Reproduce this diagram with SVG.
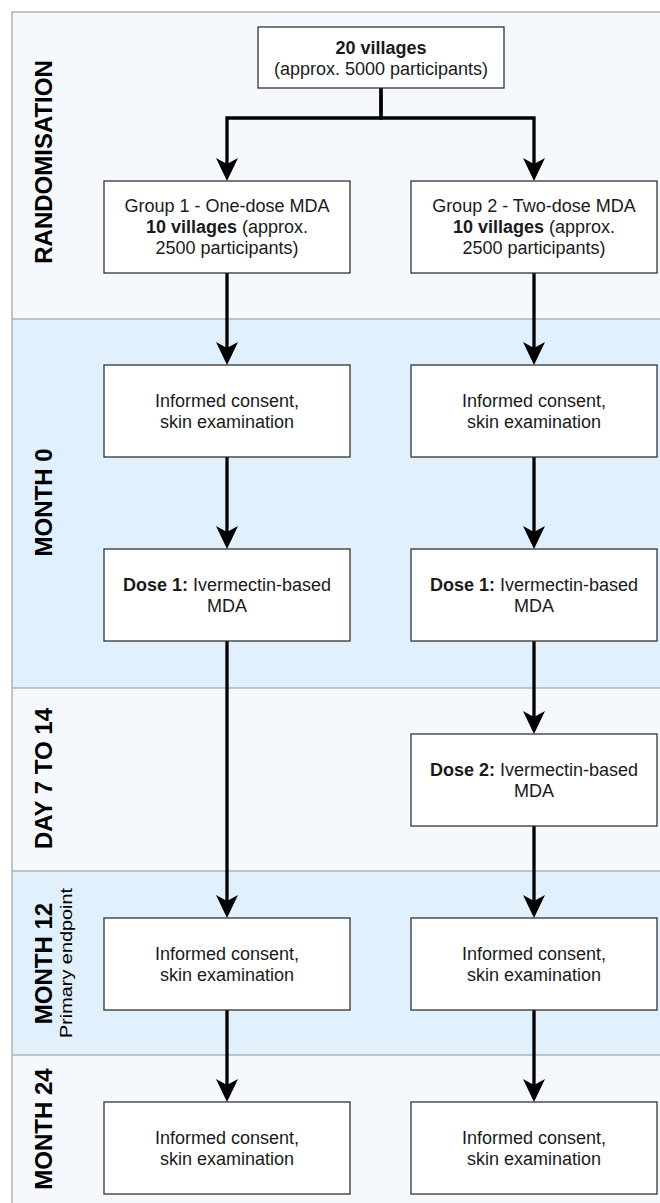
<svg xmlns="http://www.w3.org/2000/svg" width="660" height="1203" viewBox="0 0 660 1203">
<style>
.lane-light{fill:#f5f9fe;}
.lane-blue{fill:#e0f0fd;}
.sep{stroke:#b3b3b3;stroke-width:1.5;fill:none;}
.box{fill:#ffffff;stroke:#333333;stroke-width:1.3;}
.t{font-family:"Liberation Sans",Arial,Helvetica,sans-serif;font-size:18px;fill:#1a1a1a;text-anchor:middle;}
.b{font-weight:bold;}
.lane-label{font-family:"Liberation Sans",Arial,Helvetica,sans-serif;font-size:24px;font-weight:bold;fill:#000000;text-anchor:middle;}
.sub-label{font-family:"Liberation Sans",Arial,Helvetica,sans-serif;font-size:17px;fill:#000000;text-anchor:middle;}
.edge{stroke:#000000;stroke-width:3.3;fill:none;marker-end:url(#arrow);}
</style>
<defs>
<marker id="arrow" markerUnits="userSpaceOnUse" viewBox="0 0 23 22" markerWidth="23" markerHeight="22" refX="6" refY="11" orient="auto" overflow="visible">
<path d="M0,0 L23,11 L0,22 L6,11 Z" fill="#000000"/>
</marker>
</defs>

<g id="lanes">
<rect class="lane-light" x="12" y="12" width="660" height="307"/>
<rect class="lane-blue" x="12" y="319" width="660" height="369"/>
<rect class="lane-light" x="12" y="688" width="660" height="183"/>
<rect class="lane-blue" x="12" y="871" width="660" height="184"/>
<rect class="lane-light" x="12" y="1055" width="660" height="160"/>
<path class="sep" d="M12,1210 V12 H672"/>
<path class="sep" d="M12,319 H672 M12,688 H672 M12,871 H672 M12,1055 H672"/>
</g>

<g id="lane-labels">
<text class="lane-label" transform="translate(52,162) rotate(-90)">RANDOMISATION</text>
<text class="lane-label" transform="translate(52,502.5) rotate(-90)">MONTH 0</text>
<text class="lane-label" transform="translate(52,778.5) rotate(-90)">DAY 7 TO 14</text>
<text class="lane-label" transform="translate(52,963.5) rotate(-90)">MONTH 12</text>
<text class="sub-label" transform="translate(71.5,963) rotate(-90)" textLength="150" lengthAdjust="spacingAndGlyphs">Primary endpoint</text>
<text class="lane-label" transform="translate(52,1129) rotate(-90)">MONTH 24</text>
</g>

<g id="connectors">
<path class="edge" d="M381,88 V118 H227 V164"/>
<path class="edge" d="M381,88 V118 H534 V164"/>
<path class="edge" d="M227,273 V348"/>
<path class="edge" d="M534,273 V348"/>
<path class="edge" d="M227,457 V532"/>
<path class="edge" d="M534,457 V532"/>
<path class="edge" d="M227,641 V901"/>
<path class="edge" d="M534,641 V717"/>
<path class="edge" d="M534,826 V901"/>
<path class="edge" d="M227,1010 V1085"/>
<path class="edge" d="M534,1010 V1085"/>
</g>

<g id="node-villages">
<rect class="box" x="258" y="27" width="246" height="61"/>
<text class="t b" x="381" y="54">20 villages</text>
<text class="t" x="381" y="75">(approx. 5000 participants)</text>
</g>

<g id="node-group1">
<rect class="box" x="104" y="181" width="246" height="92"/>
<text class="t" x="227" y="212.3">Group 1 - One-dose MDA</text>
<text class="t" x="227" y="233.3"><tspan class="b">10 villages</tspan> (approx.</text>
<text class="t" x="227" y="254.3">2500 participants)</text>
</g>

<g id="node-group2">
<rect class="box" x="411" y="181" width="246" height="92"/>
<text class="t" x="534" y="212.3">Group 2 - Two-dose MDA</text>
<text class="t" x="534" y="233.3"><tspan class="b">10 villages</tspan> (approx.</text>
<text class="t" x="534" y="254.3">2500 participants)</text>
</g>

<g id="node-g1-m0-consent">
<rect class="box" x="104" y="365" width="246" height="92"/>
<text class="t" x="227" y="406.8">Informed consent,</text>
<text class="t" x="227" y="427.8">skin examination</text>
</g>

<g id="node-g2-m0-consent">
<rect class="box" x="411" y="365" width="246" height="92"/>
<text class="t" x="534" y="406.8">Informed consent,</text>
<text class="t" x="534" y="427.8">skin examination</text>
</g>

<g id="node-g1-dose1">
<rect class="box" x="104" y="549" width="246" height="92"/>
<text class="t" x="227" y="590.8"><tspan class="b">Dose 1:</tspan> Ivermectin-based</text>
<text class="t" x="227" y="611.8">MDA</text>
</g>

<g id="node-g2-dose1">
<rect class="box" x="411" y="549" width="246" height="92"/>
<text class="t" x="534" y="590.8"><tspan class="b">Dose 1:</tspan> Ivermectin-based</text>
<text class="t" x="534" y="611.8">MDA</text>
</g>

<g id="node-g2-dose2">
<rect class="box" x="411" y="734" width="246" height="92"/>
<text class="t" x="534" y="775.8"><tspan class="b">Dose 2:</tspan> Ivermectin-based</text>
<text class="t" x="534" y="796.8">MDA</text>
</g>

<g id="node-g1-m12-consent">
<rect class="box" x="104" y="918" width="246" height="92"/>
<text class="t" x="227" y="959.8">Informed consent,</text>
<text class="t" x="227" y="980.8">skin examination</text>
</g>

<g id="node-g2-m12-consent">
<rect class="box" x="411" y="918" width="246" height="92"/>
<text class="t" x="534" y="959.8">Informed consent,</text>
<text class="t" x="534" y="980.8">skin examination</text>
</g>

<g id="node-g1-m24-consent">
<rect class="box" x="104" y="1102" width="246" height="92"/>
<text class="t" x="227" y="1143.8">Informed consent,</text>
<text class="t" x="227" y="1164.8">skin examination</text>
</g>

<g id="node-g2-m24-consent">
<rect class="box" x="411" y="1102" width="246" height="92"/>
<text class="t" x="534" y="1143.8">Informed consent,</text>
<text class="t" x="534" y="1164.8">skin examination</text>
</g>
</svg>
